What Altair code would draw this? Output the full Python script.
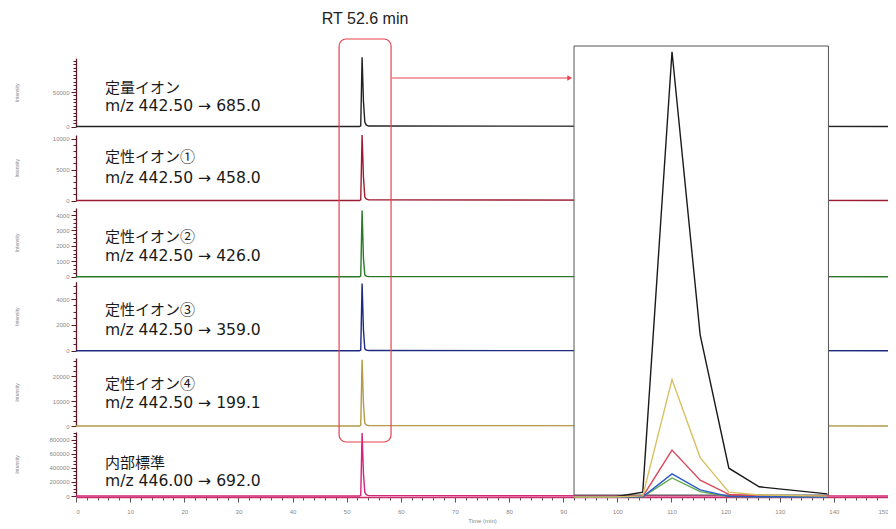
import altair as alt
import pandas as pd

# ---------------- data ----------------
time_min = [0, 52.35, 52.6, 52.85, 53.1, 53.35, 53.6, 54.05, 150]
# positions of the same samples inside the zoomed inset (drawn on the main time axis frame)
inset_pos = [92, 99.5, 104.7, 110.1, 115.3, 120.6, 126.2, 138.8]

int_685 = [0, 0, 1100, 100500, 36600, 6500, 2300, 700, 0]
int_458 = [0, 0, 120, 10600, 3800, 600, 250, 100, 0]
int_426 = [0, 0, 40, 4300, 1200, 120, 40, 10, 0]
int_359 = [0, 0, 50, 5200, 1600, 150, 50, 10, 0]
int_199 = [0, 0, 250, 26500, 8900, 1100, 450, 200, 0]
int_692 = [0, 0, 9000, 900000, 320000, 55000, 20000, 6000, 0]

ion_names = ["定量イオン", "定性イオン①", "定性イオン②", "定性イオン③", "定性イオン④", "内部標準"]
mz_labels = ["m/z 442.50 → 685.0", "m/z 442.50 → 458.0", "m/z 442.50 → 426.0",
             "m/z 442.50 → 359.0", "m/z 442.50 → 199.1", "m/z 446.00 → 692.0"]
ion_keys = ["685.0", "458.0", "426.0", "359.0", "199.1", "692.0"]
series = [int_685, int_458, int_426, int_359, int_199, int_692]

y_max = [99000, 10600, 4460, 5340, 27200, 914000]
y_major = [50000, 5000, 1000, 2000, 10000, 200000]
y_minor = [5000, 1000, 250, 500, 2000, 50000]
x_ticks = list(range(0, 151, 2))

rt_label = "RT 52.6 min"
rt_x = [53.4]
box_x = [48.6, 58.2]
arrow_x = [58.4, 91.2]
inset_x = [92.0, 139.0]
label_x = [5.36]

# ---------------- styles ----------------
colors = ["#222222", "#9b1b30", "#2a7a2a", "#1c2a80", "#b39b45", "#d4237a"]
ranges = [[118.5, 50.2], [192.5, 127], [268.7, 200], [342.7, 273.7], [418, 350], [488, 424]]
label_y = [[80, 98], [149, 170], [229, 248], [302, 322], [376, 395], [455, 473]]
inset_colors = {"685.0": "#1a1a1a", "458.0": "#d84a5a", "426.0": "#5aa84a",
                "359.0": "#2a5ac8", "199.1": "#d8c060"}

FONT = "Liberation Sans"
MFONT = "DejaVu Sans"
JFONT = "Noto Sans CJK JP"

x_scale = alt.Scale(domain=[0, 150], nice=False, zero=False)
x_axis = alt.Axis(
    orient="bottom", values=x_ticks, format="d",
    labelExpr="datum.value % 10 === 0 ? datum.label : ''",
    tickSize={"condition": {"test": "datum.value % 10 === 0", "value": 5}, "value": 3},
    labelOverlap=False, labelFlush=1, grid=False,
    domainColor="#c8306a", domainWidth=1.5, tickColor="#555555",
    labelFont=FONT, labelFontSize=6, labelColor="#888888", labelPadding=6,
    title="Time (min)", titleFont=FONT, titleFontSize=6, titleColor="#888888",
    titleFontWeight="normal", titlePadding=3,
)

layers = []
for i in range(6):
    df = pd.DataFrame({"t": time_min, "v": series[i]})
    maj = y_major[i]
    ticks = list(range(0, y_max[i] + 1, y_minor[i]))
    yaxis = alt.Axis(
        orient="left", values=ticks, format="d",
        labelExpr=f"datum.value % {maj} === 0 ? datum.label : ''",
        tickSize={"condition": {"test": f"datum.value % {maj} === 0", "value": 5}, "value": 3},
        labelOverlap=False, grid=False,
        domainColor="#5a1a28", domainWidth=1.3, tickColor="#5a1a28",
        labelFont=FONT, labelFontSize=6, labelColor="#888888", labelPadding=2,
        title="Intensity", titleFont=FONT, titleFontSize=5, titleColor="#888888",
        titleFontWeight="normal", titleX=-57,
    )
    layers.append(
        alt.Chart(df).mark_line(color=colors[i], strokeWidth=1.4).encode(
            x=alt.X("t:Q", scale=x_scale, axis=x_axis),
            y=alt.Y("v:Q", scale=alt.Scale(domain=[0, y_max[i]], range=ranges[i], nice=False, zero=True),
                    axis=yaxis),
        )
    )

# inset frame (white box covering the main traces)
inset_df = pd.DataFrame({"x": [inset_x[0]], "x2": [inset_x[1]]})
layers.append(
    alt.Chart(inset_df).mark_rect(fill="white", stroke="#555555", strokeWidth=1).encode(
        x=alt.X("x:Q", scale=x_scale, axis=x_axis), x2="x2:Q",
        y=alt.value(38), y2=alt.value(487),
    )
)

# inset traces
rows = []
for key, vals in zip(ion_keys, series):
    if key not in inset_colors:
        continue
    for p, v in zip(inset_pos, vals[:len(inset_pos)]):
        rows.append({"ion": key, "x": p, "v": v})
ins = pd.DataFrame(rows)
ckeys = sorted(inset_colors.keys())
layers.append(
    alt.Chart(ins).mark_line(strokeWidth=1.4).encode(
        x=alt.X("x:Q", scale=x_scale, axis=x_axis),
        y=alt.Y("v:Q", scale=alt.Scale(domain=[0, 100000], range=[489, 46], nice=False), axis=None),
        color=alt.Color("ion:N", scale=alt.Scale(domain=ckeys, range=[inset_colors[k] for k in ckeys]), legend=None),
        detail="ion:N",
    )
)

# red rounded box around peak
box_df = pd.DataFrame({"x": [box_x[0]], "x2": [box_x[1]]})
layers.append(
    alt.Chart(box_df).mark_rect(fillOpacity=0, stroke="#e8404f", strokeWidth=1.2, cornerRadius=7).encode(
        x=alt.X("x:Q", scale=x_scale, axis=x_axis), x2="x2:Q",
        y=alt.value(31), y2=alt.value(434),
    )
)

# arrow
arr_df = pd.DataFrame({"x": [arrow_x[0]], "x2": [arrow_x[1]]})
layers.append(
    alt.Chart(arr_df).mark_rule(color="#e8404f", strokeWidth=1.2).encode(
        x=alt.X("x:Q", scale=x_scale, axis=x_axis), x2="x2:Q", y=alt.value(70),
    )
)
head_df = pd.DataFrame({"x": [arrow_x[1]]})
layers.append(
    alt.Chart(head_df).mark_point(shape="triangle-right", filled=True, color="#e8404f", size=30, opacity=1).encode(
        x=alt.X("x:Q", scale=x_scale, axis=x_axis), y=alt.value(70),
    )
)

# RT title
rt_df = pd.DataFrame({"x": rt_x, "t": [rt_label]})
layers.append(
    alt.Chart(rt_df).mark_text(font=FONT, fontSize=16, color="#222222", align="center", baseline="middle").encode(
        x=alt.X("x:Q", scale=x_scale, axis=x_axis), y=alt.value(10.5), text="t:N",
    )
)

# panel labels
for i in range(6):
    ldf = pd.DataFrame({"x": label_x, "a": [ion_names[i]], "b": [mz_labels[i]]})
    layers.append(
        alt.Chart(ldf).mark_text(font=JFONT, fontSize=15, color="#1a1a1a", align="left", baseline="middle").encode(
            x=alt.X("x:Q", scale=x_scale, axis=x_axis), y=alt.value(label_y[i][0]), text="a:N",
        )
    )
    layers.append(
        alt.Chart(ldf).mark_text(font=MFONT, fontSize=15.6, color="#1a1a1a", align="left", baseline="middle").encode(
            x=alt.X("x:Q", scale=x_scale, axis=x_axis), y=alt.value(label_y[i][1]), text="b:N",
        )
    )

chart = alt.layer(*layers).resolve_scale(y="independent", color="independent").properties(
    width=812, height=489,
    autosize=alt.AutoSizeParams(type="none"),
    padding={"left": 68, "top": 0, "right": 0, "bottom": 32},
    background="white",
).configure_view(stroke=None)

chart.save("out.html", embed_options={"renderer": "svg", "actions": False})
